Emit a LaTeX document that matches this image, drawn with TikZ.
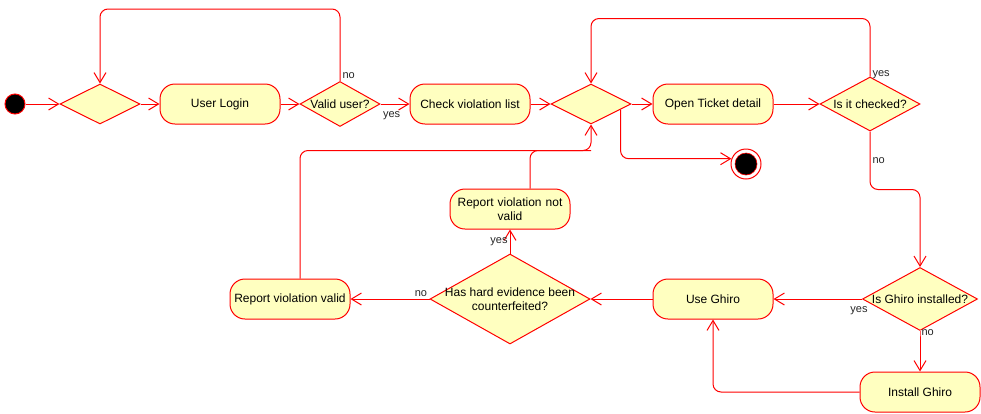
\documentclass[tikz,border=0pt]{standalone}
\usepackage{fontspec}
\setmainfont{Liberation Sans}
\usetikzlibrary{positioning,arrows.meta,shapes.geometric,calc}

\definecolor{nodefill}{HTML}{FFFFC0}
\tikzset{
  >={Straight Barb[length=10pt,width=12pt]},
  act/.style={rectangle, rounded corners=15pt, draw=red, fill=nodefill, minimum width=120pt,
    minimum height=40pt, inner sep=0pt, align=center, font=\fontsize{12}{14}\selectfont},
  dec/.style={diamond, draw=red, fill=nodefill, inner sep=0pt, font=\fontsize{12}{14}\selectfont},
  lbl/.style={font=\fontsize{11}{13}\selectfont, inner sep=2pt, text=black!85},
  flow/.style={->, draw=red, rounded corners=8pt},
}

\begin{document}
\begin{tikzpicture}[x=1pt, y=-1pt, on grid=true, line width=1pt]
    \useasboundingbox (0,0) rectangle (981,413);

    \node[circle, draw=red, fill=black, minimum size=20pt, inner sep=0pt] (init) at (15,104) {};
    \node[dec, minimum width=80pt, minimum height=40pt, right=85pt of init] (dA) {};
    \node[act, right=120pt of dA] (login) {User Login};
    \node[dec, minimum width=80pt, minimum height=45pt, right=120pt of login,
      label={[font=\fontsize{12}{14}\selectfont]center:Valid user?}] (valid) {};
    \node[act, right=130pt of valid] (check) {Check violation list};
    \node[dec, minimum width=80pt, minimum height=40pt, right=121pt of check] (dB) {};
    \node[act, right=122pt of dB] (open) {Open Ticket detail};
    \node[dec, minimum width=100pt, minimum height=54pt, right=157pt of open,
      label={[font=\fontsize{12}{14}\selectfont]center:Is it checked?}] (chk) {};
    \node[circle, draw=red, fill=white, minimum size=30pt, inner sep=0pt,
      below right=60pt and 33pt of open] (fin) {};
    \filldraw[draw=red, fill=black, line width=0.6pt] (fin.center) circle (11pt);

    \node[dec, minimum width=115pt, minimum height=63pt, below right=195pt and 50pt of chk,
      label={[font=\fontsize{12}{14}\selectfont]center:Is Ghiro installed?}] (ghiro) {};
    \node[act, below=93pt of ghiro] (inst) {Install Ghiro};
    \node[act, left=207pt of ghiro] (use) {Use Ghiro};
    \node[dec, minimum width=160pt, minimum height=90pt, left=203pt of use,
      label={[font=\fontsize{12}{14}\selectfont, align=center]center:Has hard evidence been\\counterfeited?}] (hard) {};
    \node[act, left=220pt of hard] (rvv) {Report violation valid};
    \node[act, above=90pt of hard, text width=112pt] (rnv) {Report violation not\\valid};

    \coordinate (jn) at ($(dB.south)+(0,26)$);
    \coordinate (out) at ($(dB.east)!0.27!(dB.south)$);

    % top row
    \draw[flow] (init) -- (dA);
    \draw[flow] (dA) -- (login);
    \draw[flow] (login) -- (valid);
    \draw[flow] (valid.east) -- node[lbl, pos=0, below right, yshift=-5pt] {yes} (check.west);
    \draw[flow] (valid.north) -- node[lbl, pos=0, anchor=south west] {no} ++(0,-72) -| (dA.north);
    \draw[flow] (check) -- (dB);
    \draw[flow] (dB) -- (open);
    \draw[flow] (open) -- (chk);
    \draw[flow] (chk.north) -- node[lbl, pos=0, anchor=south west, yshift=-5pt] {yes} ++(0,-58) -| (dB.north);
    \draw[flow] (out) |- (fin.160);

    % right column
    \draw[flow] (chk.south) -- node[lbl, pos=0.5, right] {no} ++(0,58) -| (ghiro.north);
    \draw[flow] (ghiro.south) -- node[lbl, pos=0.05, anchor=west, fill=white, inner sep=1pt] {no} (inst.north);
    \draw[flow] (ghiro.west) -- node[lbl, pos=0, below left, xshift=8pt, yshift=-5pt] {yes} (use.east);
    \draw[flow] (inst.west) -| (use.south);

    % bottom row
    \draw[flow] (use.west) -- (hard.east);
    \draw[flow] (hard.west) -- node[lbl, pos=0, above left] {no} (rvv.east);
    \draw[flow] (hard.north) -- node[lbl, midway, left] {yes} (rnv.south);
    \draw[draw=red, rounded corners=8pt] ([xshift=10pt]rvv.north) |- (jn);
    \draw[flow] ([xshift=20pt]rnv.north) |- (jn) -- (dB.south);
\end{tikzpicture}
\end{document}
